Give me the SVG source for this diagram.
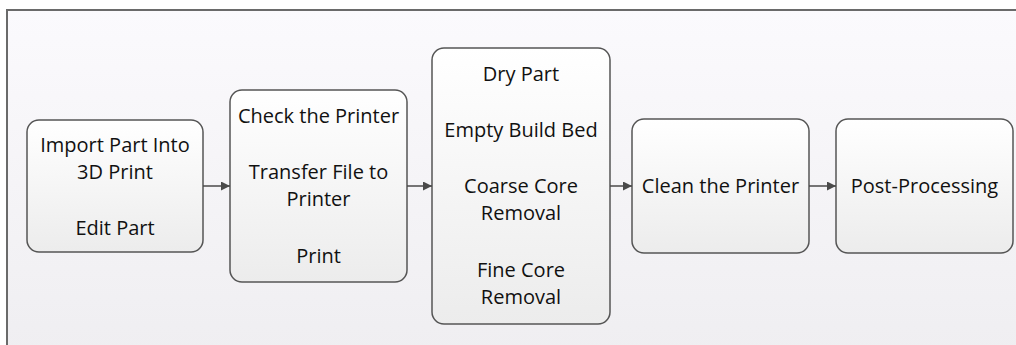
<svg xmlns="http://www.w3.org/2000/svg" width="1016" height="345" viewBox="0 0 1016 345">
  <defs>
    <linearGradient id="bg" x1="0" y1="0" x2="0" y2="1">
      <stop offset="0" stop-color="#fbfafd"/>
      <stop offset="1" stop-color="#efeef1"/>
    </linearGradient>
    <linearGradient id="nodefill" x1="0" y1="0" x2="0" y2="1">
      <stop offset="0" stop-color="#ffffff"/>
      <stop offset="1" stop-color="#ececec"/>
    </linearGradient>
    <marker id="arrow" viewBox="0 0 10 10" refX="10" refY="5" markerWidth="9" markerHeight="9" markerUnits="userSpaceOnUse" orient="auto">
      <path d="M0,0 L10,5 L0,10 z" fill="#4a4a4a"/>
    </marker>
  </defs>
  <style>
    .node rect { fill: url(#nodefill); stroke: #555555; stroke-width: 1.5; }
    .node text { font-family: "Open Sans", "Noto Sans", sans-serif; font-size: 20px; fill: #111111; text-anchor: middle; }
    .conn line { stroke: #4a4a4a; stroke-width: 1.5; marker-end: url(#arrow); }
  </style>
  <rect x="0" y="0" width="1016" height="345" fill="#ffffff"/>
  <rect x="7" y="10" width="1020" height="345" fill="url(#bg)" stroke="#6a6a6a" stroke-width="2"/>

  <g id="node1" class="node">
    <rect x="27" y="120" width="176" height="132" rx="12"/>
    <text x="115" y="152">Import Part Into</text>
    <text x="115" y="179">3D Print</text>
    <text x="115" y="235">Edit Part</text>
  </g>
  <g id="node2" class="node">
    <rect x="230" y="90" width="177" height="192" rx="12"/>
    <text x="318.5" y="123">Check the Printer</text>
    <text x="318.5" y="179">Transfer File to</text>
    <text x="318.5" y="206">Printer</text>
    <text x="318.5" y="263">Print</text>
  </g>
  <g id="node3" class="node">
    <rect x="432" y="48" width="178" height="276" rx="12"/>
    <text x="521" y="81">Dry Part</text>
    <text x="521" y="137">Empty Build Bed</text>
    <text x="521" y="193">Coarse Core</text>
    <text x="521" y="220">Removal</text>
    <text x="521" y="277">Fine Core</text>
    <text x="521" y="304">Removal</text>
  </g>
  <g id="node4" class="node">
    <rect x="632" y="119" width="177" height="134" rx="12"/>
    <text x="720.5" y="193">Clean the Printer</text>
  </g>
  <g id="node5" class="node">
    <rect x="836" y="119" width="177" height="134" rx="12"/>
    <text x="924.5" y="193">Post-Processing</text>
  </g>

  <g id="connectors" class="conn">
    <line x1="203" y1="186" x2="230" y2="186"/>
    <line x1="407" y1="186" x2="432" y2="186"/>
    <line x1="610" y1="186" x2="632" y2="186"/>
    <line x1="809" y1="186" x2="836" y2="186"/>
  </g>
</svg>
